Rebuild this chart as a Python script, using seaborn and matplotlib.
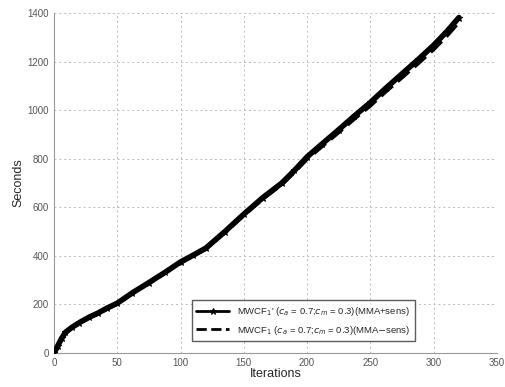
import matplotlib
matplotlib.use("Agg")
import matplotlib.pyplot as plt
import seaborn as sns
import pandas as pd

iterations = [0, 3, 6, 9, 14, 20, 28, 35, 42, 50, 62, 75, 88, 100, 110, 120, 135, 150, 165, 180, 190, 200, 212, 225, 237, 250, 262, 275, 288, 300, 310, 320]
sec_plus = [0, 30, 60, 85, 105, 125, 148, 165, 185, 205, 248, 290, 333, 375, 403, 432, 500, 572, 640, 700, 752, 808, 862, 920, 975, 1032, 1090, 1150, 1210, 1268, 1322, 1382]
sec_minus = [0, 28, 58, 82, 103, 123, 146, 163, 183, 203, 246, 288, 331, 372, 400, 430, 497, 568, 636, 695, 746, 800, 853, 910, 964, 1020, 1077, 1136, 1195, 1252, 1305, 1364]

label_plus = r"MWCF$_1$' ($c_a$ = 0.7;$c_m$ = 0.3)(MMA+sens)"
label_minus = r"MWCF$_1$ ($c_a$ = 0.7;$c_m$ = 0.3)(MMA$-$sens)"

df = pd.DataFrame({"Iterations": iterations * 2,
                   "Seconds": sec_plus + sec_minus,
                   "series": [label_plus] * len(iterations) + [label_minus] * len(iterations)})

sns.set_style("white")
plt.rcParams["font.family"] = ["Liberation Sans", "DejaVu Sans"]

fig = plt.figure(figsize=(5.05, 3.87), dpi=100)
ax = fig.add_axes([0.107, 0.088, 0.877, 0.878])

sns.lineplot(data=df[df.series == label_plus], x="Iterations", y="Seconds", ax=ax,
             color="black", linewidth=4, marker="*", markersize=5,
             markeredgecolor="black", markerfacecolor="black", label=label_plus, zorder=3)
sns.lineplot(data=df[df.series == label_minus], x="Iterations", y="Seconds", ax=ax,
             color="black", linewidth=3, linestyle="--", label=label_minus, zorder=2)

ax.set_xlim(0, 350)
ax.set_ylim(0, 1400)
ax.set_xticks(range(0, 351, 50))
ax.set_yticks(range(0, 1401, 200))
ax.grid(True, linestyle=(0, (2, 3)), color="#bbbbbb", linewidth=0.7)
for s in ["top", "right"]:
    ax.spines[s].set_visible(False)
for s in ["left", "bottom"]:
    ax.spines[s].set_color("#999999")
    ax.spines[s].set_linewidth(0.8)
ax.tick_params(axis="both", labelsize=7, colors="#555555", length=3, direction="in")
ax.tick_params(axis="x", pad=4)
ax.set_xlabel("Iterations", fontsize=9, labelpad=0)
ax.set_ylabel("Seconds", fontsize=9, labelpad=2)

leg = ax.legend(loc="lower left", bbox_to_anchor=(0.30, 0.02), fontsize=6.8,
                frameon=True, fancybox=False, handlelength=3.5, borderpad=0.5,
                labelspacing=0.6)
leg.get_frame().set_edgecolor("#333333")
leg.get_frame().set_linewidth(1.0)
for h in leg.get_lines():
    h.set_linewidth(2)

fig.savefig("out.png", dpi=100)
